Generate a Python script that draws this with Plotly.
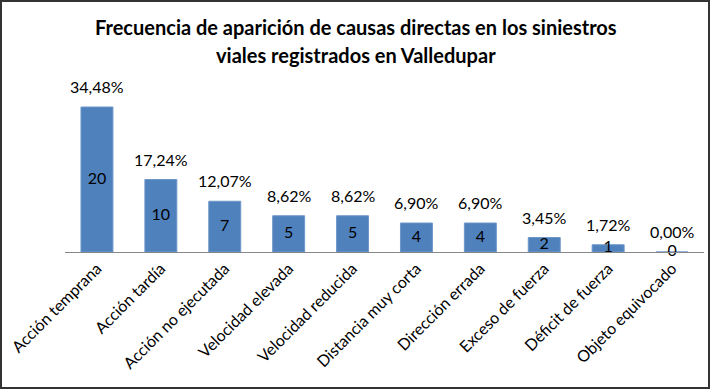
import plotly.graph_objects as go

categories = ["Acción temprana", "Acción tardía", "Acción no ejecutada", "Velocidad elevada",
              "Velocidad reducida", "Distancia muy corta", "Dirección errada", "Exceso de fuerza",
              "Déficit de fuerza", "Objeto equivocado"]
counts = [20, 10, 7, 5, 5, 4, 4, 2, 1, 0]
percent_labels = ["34,48%", "17,24%", "12,07%", "8,62%", "8,62%", "6,90%", "6,90%", "3,45%", "1,72%", "0,00%"]
title_lines = ["Frecuencia de aparición de causas directas en los siniestros",
               "viales registrados en Valledupar"]

W, H = 711, 390
L, R, T, B = 65, 7, 78, 138
pw, ph = W - L - R, H - T - B

FONT = "Lato"

fig = go.Figure()
fig.add_trace(go.Bar(x=categories, y=counts, marker=dict(color="#4F81BD", line=dict(color="#6E97C8", width=1)),
                     hoverinfo="skip"))
fig.add_trace(go.Scatter(x=categories, y=[c / 2 for c in counts], mode="text",
                         text=[str(c) for c in counts], textposition="middle center", cliponaxis=False,
                         textfont=dict(family=FONT, size=16, color="black"), hoverinfo="skip"))

annotations = []
for cat, c, p in zip(categories, counts, percent_labels):
    annotations.append(dict(x=cat, y=c, xref="x", yref="y", text=p, showarrow=False,
                            yanchor="bottom", yshift=9,
                            font=dict(family=FONT, size=16, color="black")))
for i, line in enumerate(title_lines):
    ypix = 27 + 28 * i
    annotations.append(dict(x=(W / 2 - L) / pw, y=(H - B - ypix) / ph, xref="paper", yref="paper",
                            text=f"<b>{line}</b>", showarrow=False, xanchor="center", yanchor="middle",
                            font=dict(family=FONT, size=20, color="black")))

fig.update_layout(
    width=W, height=H,
    margin=dict(l=L, r=R, t=T, b=B, pad=0),
    paper_bgcolor="white", plot_bgcolor="white",
    showlegend=False, bargap=0.5,
    annotations=annotations,
    xaxis=dict(showline=True, linecolor="#888888", linewidth=1, ticks="", tickangle=-45, automargin=False,
               tickfont=dict(family=FONT, size=16, color="black"), showgrid=False),
    yaxis=dict(range=[0, 24], visible=False, showgrid=False, zeroline=False, automargin=False),
    shapes=[dict(type="rect", xref="paper", yref="paper",
                 x0=(1 - L) / pw, x1=(W - 2 - L) / pw,
                 y0=(H - B - (H - 2)) / ph, y1=(H - B - 1) / ph,
                 line=dict(color="#333333", width=2))],
)

fig.write_html("out.html", config={"displayModeBar": False},
               post_script="document.body.style.margin='0';document.body.style.overflow='hidden';")
